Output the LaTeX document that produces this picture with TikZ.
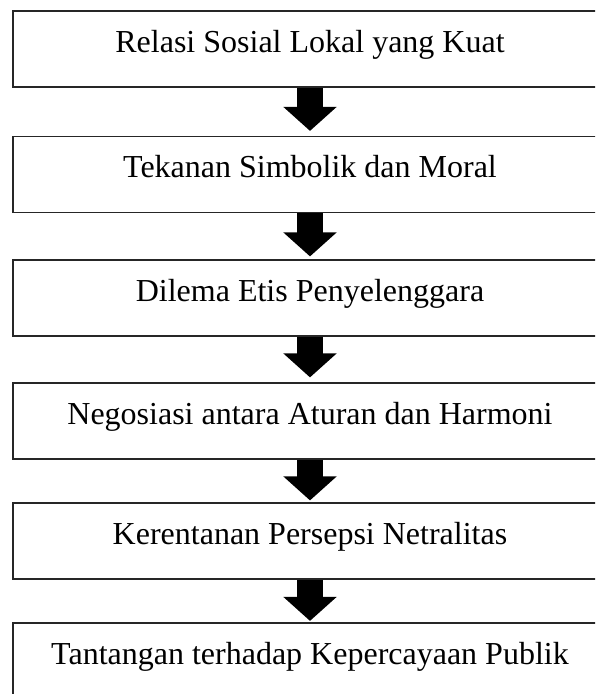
\documentclass[tikz,border=0pt]{standalone}
\usepackage{fontspec}
\setmainfont{Liberation Serif}
\usetikzlibrary{arrows.meta}
\begin{document}
\begin{tikzpicture}[x=1pt,y=-1pt,
  flowbox/.style={draw=black!85, line width=1.2pt, fill=white, inner sep=0pt,
    minimum width=594pt, minimum height=76pt, text height=21pt, text depth=15pt,
    font=\fontsize{32}{38}\selectfont},
  blockarrow/.style={draw=black, line width=26pt, -{Triangle[width=52pt,length=24pt]}}]
\useasboundingbox (0,0) rectangle (595,694);
\clip (0,0) rectangle (595,694);
\fill[white] (0,0) rectangle (595,694);
\node[flowbox] (b1) at (310,49) {Relasi Sosial Lokal yang Kuat};
\node[flowbox] (b2) at (310,174.5) {Tekanan Simbolik dan Moral};
\node[flowbox] (b3) at (310,298) {Dilema Etis Penyelenggara};
\node[flowbox] (b4) at (310,421) {Negosiasi antara Aturan dan Harmoni};
\node[flowbox] (b5) at (310,541) {Kerentanan Persepsi Netralitas};
\node[flowbox] (b6) at (310,661) {Tantangan terhadap Kepercayaan Publik};
\draw[blockarrow] (b1.south) -- ([yshift=5pt]b2.north);
\draw[blockarrow] (b2.south) -- ([yshift=3pt]b3.north);
\draw[blockarrow] (b3.south) -- ([yshift=5pt]b4.north);
\draw[blockarrow] (b4.south) -- ([yshift=2pt]b5.north);
\draw[blockarrow] (b5.south) -- ([yshift=1.5pt]b6.north);
\end{tikzpicture}
\end{document}
